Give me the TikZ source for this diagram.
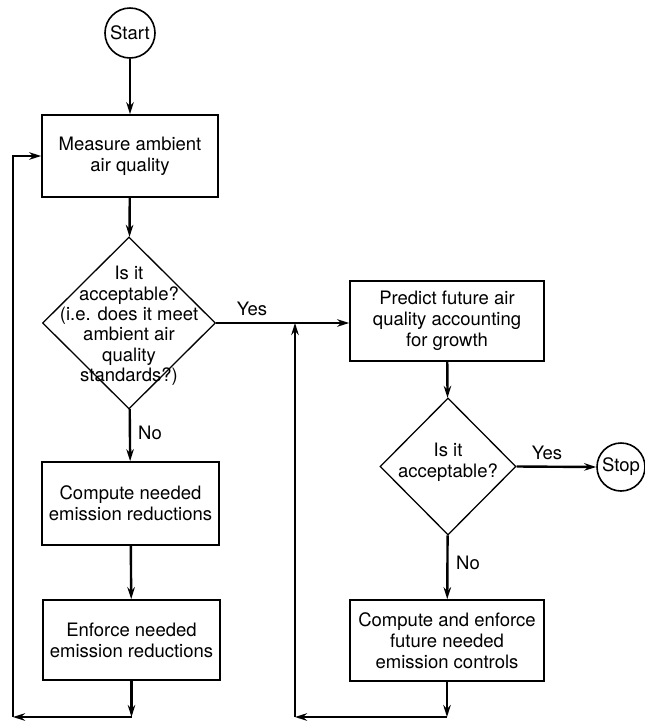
\documentclass[tikz,border=0pt]{standalone}
\usepackage{fontspec}
\setmainfont{TeX Gyre Heros}
\usetikzlibrary{shapes.geometric,arrows.meta}
\begin{document}
\begin{tikzpicture}[x=1pt,y=-1pt,
  font=\fontsize{18.5}{21}\selectfont,
  box/.style={draw, line width=1.7pt, align=center, inner sep=0pt},
  dec/.style={draw, shape=diamond, line width=1.3pt, inner sep=0pt},
  term/.style={draw, circle, line width=1.6pt, minimum size=50pt, inner sep=0pt},
  conn/.style={line width=2.4pt, -{Stealth[length=12pt,width=7.5pt]}},
  lbl/.style={inner sep=0pt}]
\useasboundingbox (0,0) rectangle (645,721);
\node[term] (start) at (130,33) {Start};
\node[box, minimum width=176pt, minimum height=82pt] (meas) at (130,156) {Measure ambient\\air quality};
\node[dec, minimum width=173pt, minimum height=172pt] (d1) at (129,323) {};
\node[lbl, align=center, font=\fontsize{18.5}{20.4}\selectfont] (d1t) at (129,326) {Is it\\acceptable?\\(i.e. does it meet\\ambient air\\quality\\standards?)};
\node[box, minimum width=177pt, minimum height=83pt] (comp) at (130.5,503.5) {Compute needed\\emission reductions};
\node[box, minimum width=177pt, minimum height=80pt] (enf) at (131.5,640) {Enforce needed\\emission reductions};
\node[box, minimum width=194pt, minimum height=80pt] (pred) at (447,321) {Predict future air\\quality accounting\\for growth};
\node[dec, minimum width=136pt, minimum height=137pt] (d2) at (448,466.5) {};
\node[lbl, align=center] (d2t) at (448,462) {Is it\\acceptable?};
\node[term, minimum size=48pt] (stop) at (621,467) {Stop};
\node[box, minimum width=194pt, minimum height=81pt] (ce) at (447,640.5) {Compute and enforce\\future needed\\emission controls};
\node[lbl] (yes1) at (252,309) {Yes};
\node[lbl] (no1) at (150,433) {No};
\node[lbl] (yes2) at (547,453) {Yes};
\node[lbl] (no2) at (468,563) {No};
\coordinate (bl) at (13,717);
\coordinate (br) at (295,717);
\coordinate (jn) at (295,323);
\draw[conn] (start) -- (meas);
\draw[conn] (meas) -- (d1);
\draw[conn] (d1) -- (comp);
\draw[conn] (comp) -- (enf);
\draw[conn] (enf.south) -- (enf.south |- bl);
\draw[conn] (enf.south |- bl) -- (bl);
\draw[conn] (bl) |- (meas.west);
\draw[conn] (d1.east) -- (d1.east -| pred.west);
\draw[conn] (pred) -- (d2);
\draw[conn] (d2) -- (ce);
\draw[conn] (d2.east) -- (stop.west);
\draw[conn] (ce.south) -- (ce.south |- br);
\draw[conn] (ce.south |- br) -- (br);
\draw[conn] (br) -- (jn);
\end{tikzpicture}
\end{document}
